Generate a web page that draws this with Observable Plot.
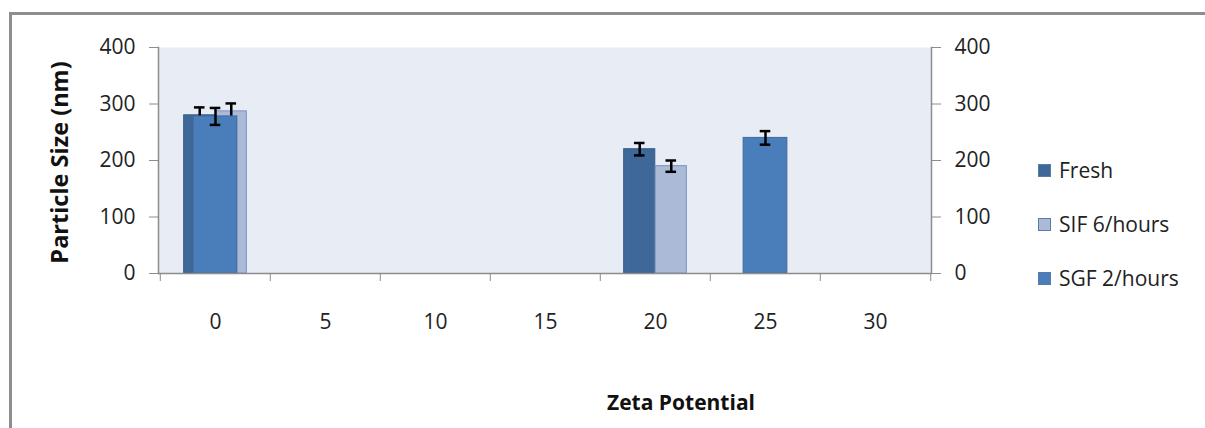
<!DOCTYPE html>
<html>
<head>
<meta charset="utf-8">
<script src="https://cdn.jsdelivr.net/npm/d3@7"></script>
<script src="https://cdn.jsdelivr.net/npm/@observablehq/plot@0.6"></script>
<style>
  html, body { margin: 0; padding: 0; background: #fff; }
  #wrap { position: relative; width: 1205px; height: 428px; overflow: hidden; font-family: "Open Sans", sans-serif; color: #222; }
  #chart { position: absolute; left: 0; top: 0; }
  #border { position: absolute; left: 9px; top: 12px; width: 1400px; height: 600px; border-top: 3px solid #8e8e8e; border-left: 3px solid #8e8e8e; box-sizing: border-box; }
  #legend { position: absolute; left: 1038px; top: 156px; font-size: 21px; line-height: 28px; }
  #legend .item { display: flex; align-items: center; height: 28px; margin-bottom: 26px; white-space: nowrap; }
  #legend .sw { width: 13px; height: 13px; margin-right: 8px; box-sizing: border-box; border: 1px solid #5a7aa8; }
</style>
</head>
<body>
<div id="wrap">
  <div id="border"></div>
  <div id="chart"></div>
  <div id="legend"></div>
</div>
<script>
// ---- data ----
const categories = ["0", "5", "10", "15", "20", "25", "30"];
const seriesNames = ["Fresh", "SIF 6/hours", "SGF 2/hours"];
const seriesColors = ["#3e6898", "#aabad7", "#4a7ebb"];
const yTicks = [0, 100, 200, 300, 400];

const freshCats = ["0", "20"];
const freshValues = [280, 220];
const freshErrors = [14, 11];

const sifCats = ["0", "20"];
const sifValues = [287, 190];
const sifErrors = [14, 10];

const sgfCats = ["0", "25"];
const sgfValues = [278, 240];
const sgfErrors = [15, 12];

// ---- build tables ----
const rows = (cats, vals, errs) => cats.map((c, i) => ({cat: c, value: vals[i], err: errs[i]}));
const fresh = rows(freshCats, freshValues, freshErrors);
const sif = rows(sifCats, sifValues, sifErrors);
const sgf = rows(sgfCats, sgfValues, sgfErrors);

// ---- layout ----
const W = 1205, H = 428;
const mL = 158, mR = 274, mT = 47, mB = 155;
const band = (W - mL - mR) / categories.length;
const wPrim = band / 3.5;   // primary-axis bars (2 series, gap 150%)
const wSec = band / 2.5;    // secondary-axis bar (1 series, gap 150%)
const capHalf = 5.5;
const axisGray = "#8c8c8c";

function errorBars(data, dx) {
  const capInset = band / 2 - capHalf;
  return [
    Plot.ruleX(data, {x: "cat", y1: d => d.value - d.err, y2: d => d.value + d.err, dx, stroke: "black", strokeWidth: 2.5}),
    Plot.tickY(data, {x: "cat", y: d => d.value + d.err, dx, insetLeft: capInset, insetRight: capInset, stroke: "black", strokeWidth: 2.5}),
    Plot.tickY(data, {x: "cat", y: d => d.value - d.err, dx, insetLeft: capInset, insetRight: capInset, stroke: "black", strokeWidth: 2.5})
  ];
}

const chart = Plot.plot({
  width: W,
  height: H,
  marginLeft: mL,
  marginRight: mR,
  marginTop: mT,
  marginBottom: mB,
  style: {fontFamily: "Open Sans, sans-serif", background: "transparent", color: "#222"},
  x: {type: "band", domain: categories, padding: 0, axis: null},
  y: {domain: [0, 400], axis: null},
  marks: [
    Plot.frame({fill: "#e8ecf4", stroke: "none"}),
    // primary axis series
    Plot.barY(fresh, {x: "cat", y: "value", fill: seriesColors[0], stroke: "#365d8a", strokeWidth: 1,
      insetLeft: band / 2 - wPrim, insetRight: band / 2}),
    Plot.barY(sif, {x: "cat", y: "value", fill: seriesColors[1], stroke: "#7d93bd", strokeWidth: 1,
      insetLeft: band / 2, insetRight: band / 2 - wPrim}),
    ...errorBars(fresh, -wPrim / 2),
    ...errorBars(sif, wPrim / 2),
    // secondary axis series
    Plot.barY(sgf, {x: "cat", y: "value", fill: seriesColors[2], stroke: "#41699a", strokeWidth: 1,
      insetLeft: (band - wSec) / 2, insetRight: (band - wSec) / 2}),
    ...errorBars(sgf, 0),
    // axis lines
    Plot.ruleY([0], {stroke: axisGray, strokeWidth: 1.5}),
    Plot.frame({anchor: "left", stroke: axisGray, strokeWidth: 1.5}),
    Plot.frame({anchor: "right", stroke: axisGray, strokeWidth: 1.5}),
    // y axes
    Plot.axisY(yTicks, {anchor: "left", tickSize: 9, tickPadding: 14, fontSize: 21, stroke: axisGray, fill: "#222", label: null}),
    Plot.axisY(yTicks, {anchor: "right", tickSize: 9, tickPadding: 14, fontSize: 21, stroke: axisGray, fill: "#222", label: null}),
    // x axis: tick marks at band boundaries, labels at band centres
    Plot.axisX(categories, {anchor: "bottom", tickSize: 8, dx: -band / 2, text: null, stroke: axisGray, label: null}),
    Plot.axisX(categories.slice(-1), {anchor: "bottom", tickSize: 8, dx: band / 2, text: null, stroke: axisGray, label: null}),
    Plot.axisX(categories, {anchor: "bottom", tickSize: 0, tickPadding: 41, fontSize: 21, fill: "#222", label: null}),
    // axis titles
    Plot.text(["Particle Size (nm)"], {text: d => d, frameAnchor: "left", textAnchor: "middle", rotate: -90, dx: -98, dy: 2, fontSize: 23.5, fontWeight: "bold", fill: "#111"}),
    Plot.text(["Zeta Potential"], {text: d => d, frameAnchor: "bottom", textAnchor: "middle", dx: 136, dy: 136, fontSize: 21, fontWeight: "bold", fill: "#111"})
  ]
});
document.getElementById("chart").appendChild(chart);

// ---- legend ----
const legend = document.getElementById("legend");
seriesNames.forEach((name, i) => {
  const item = document.createElement("div");
  item.className = "item";
  const sw = document.createElement("span");
  sw.className = "sw";
  sw.style.background = seriesColors[i];
  const label = document.createElement("span");
  label.textContent = name;
  item.appendChild(sw);
  item.appendChild(label);
  legend.appendChild(item);
});
</script>
</body>
</html>
